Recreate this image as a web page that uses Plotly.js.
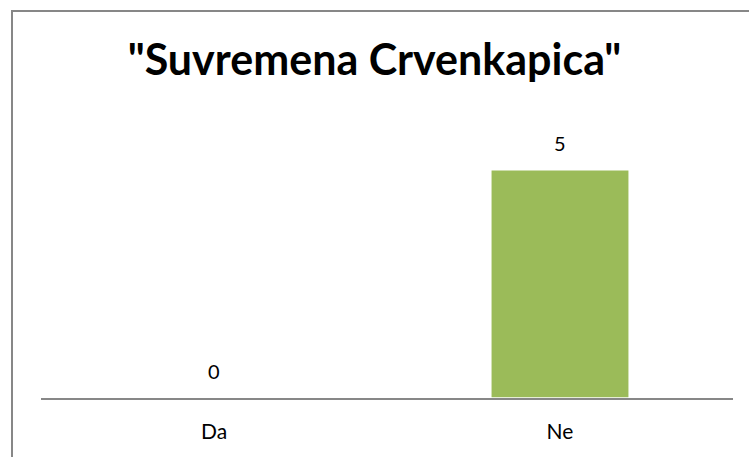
<!DOCTYPE html>
<html>
<head>
<meta charset="utf-8">
<script src="https://cdn.plot.ly/plotly-3.0.1.min.js"></script>
<style>
html,body{margin:0;padding:0;background:#fff;overflow:hidden;}
#wrap{position:relative;width:749px;height:457px;}
#chart{width:749px;height:457px;}
#frame{position:absolute;left:11px;top:10px;width:745px;height:460px;border:2px solid #878787;box-sizing:border-box;pointer-events:none;}
</style>
</head>
<body>
<div id="wrap"><div id="chart"></div><div id="frame"></div></div>
<script>
var categories = ["Da", "Ne"];
var values = [0, 5];
var chartTitle = '"Suvremena Crvenkapica"';

var trace = {
  type: 'bar',
  x: categories,
  y: values,
  marker: {color: '#9BBB59', line: {color: '#ffffff', width: 1.5}},
  hoverinfo: 'none'
};

var annotations = categories.map(function(c, i){
  return {x: c, y: values[i], xref: 'x', yref: 'y', text: String(values[i]),
    showarrow: false, yanchor: 'middle', yshift: 27,
    font: {family: 'Lato, "Open Sans", sans-serif', size: 20, color: '#000'}};
});

var layout = {
  width: 749, height: 457,
  margin: {l: 41, r: 16, t: 124, b: 59},
  paper_bgcolor: '#ffffff', plot_bgcolor: '#ffffff',
  title: {text: '<b>' + chartTitle + '</b>', x: 0.5, xanchor: 'center', y: 1 - 60/457, yanchor: 'middle', yref: 'container',
    font: {family: 'Lato, "Open Sans", sans-serif', size: 43, color: '#000'}},
  bargap: 0.6,
  showlegend: false,
  xaxis: {showline: true, linecolor: '#878787', linewidth: 2, ticks: '', showgrid: false, zeroline: false,
    ticklabelstandoff: 14, tickfont: {family: 'Lato, "Open Sans", sans-serif', size: 21, color: '#000'}},
  yaxis: {range: [0, 6], visible: false, showgrid: false, zeroline: false},
  annotations: annotations
};

Plotly.newPlot('chart', [trace], layout, {displayModeBar: false, staticPlot: true});
</script>
</body>
</html>
